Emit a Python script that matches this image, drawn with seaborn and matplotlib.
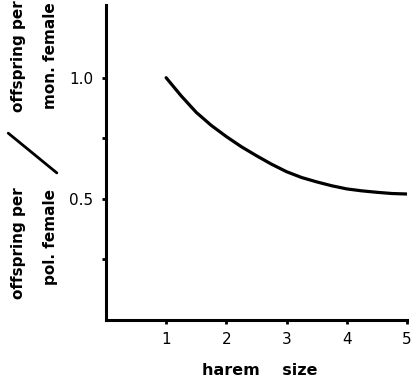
import pandas as pd
import seaborn as sns
import matplotlib.pyplot as plt
from matplotlib.lines import Line2D

# values
harem_size = [1.0, 1.25, 1.5, 1.75, 2.0, 2.25, 2.5, 2.75, 3.0,
              3.25, 3.5, 3.75, 4.0, 4.25, 4.5, 4.75, 5.0]
ratio = [1.0, 0.925, 0.857, 0.803, 0.757, 0.715, 0.678, 0.643, 0.612,
         0.588, 0.570, 0.554, 0.541, 0.533, 0.527, 0.522, 0.520]
x_ticks = [1, 2, 3, 4, 5]
y_ticks = [0.25, 0.5, 0.75, 1.0]
y_tick_labels = ["", "0.5", "", "1.0"]

df = pd.DataFrame({"harem": harem_size, "ratio": ratio})

sns.set_style("ticks")
plt.rcParams['font.family'] = ['DejaVu Sans']
plt.rcParams['text.color'] = 'black'
plt.rcParams['xtick.color'] = 'black'
plt.rcParams['ytick.color'] = 'black'

fig = plt.figure(figsize=(4.12, 3.86), dpi=100)
ax = fig.add_axes([0.257, 0.171, 0.731, 0.816])

sns.lineplot(data=df, x="harem", y="ratio", color="black", linewidth=2.3, ax=ax)

ax.set_xlim(0, 5)
ax.set_ylim(0, 1.3)
ax.set_xticks(x_ticks)
ax.set_xticklabels([str(t) for t in x_ticks], fontsize=11)
ax.set_yticks(y_ticks)
ax.set_yticklabels(y_tick_labels, fontsize=11)
ax.tick_params(length=3, width=2, pad=6, colors="black")
ax.set_xlabel("")
ax.set_ylabel("")
sns.despine(ax=ax)
for side in ["left", "bottom"]:
    ax.spines[side].set_linewidth(2.2)
    ax.spines[side].set_color("black")

# axis titles
fig.text(0.63, 0.04, "harem    size", ha="center", va="center",
         fontsize=11.5, fontweight="bold", color="black")
fig.text(0.045, 0.37, "offspring per", rotation=90, ha="center", va="center",
         fontsize=11, fontweight="bold", color="black")
fig.text(0.123, 0.385, "pol. female", rotation=90, ha="center", va="center",
         fontsize=11, fontweight="bold", color="black")
fig.text(0.045, 0.855, "offspring per", rotation=90, ha="center", va="center",
         fontsize=11, fontweight="bold", color="black")
fig.text(0.123, 0.855, "mon. female", rotation=90, ha="center", va="center",
         fontsize=11, fontweight="bold", color="black")
fig.add_artist(Line2D([0.02, 0.138], [0.655, 0.552], transform=fig.transFigure,
                      color="black", linewidth=2))

plt.savefig("out.png", dpi=100)
